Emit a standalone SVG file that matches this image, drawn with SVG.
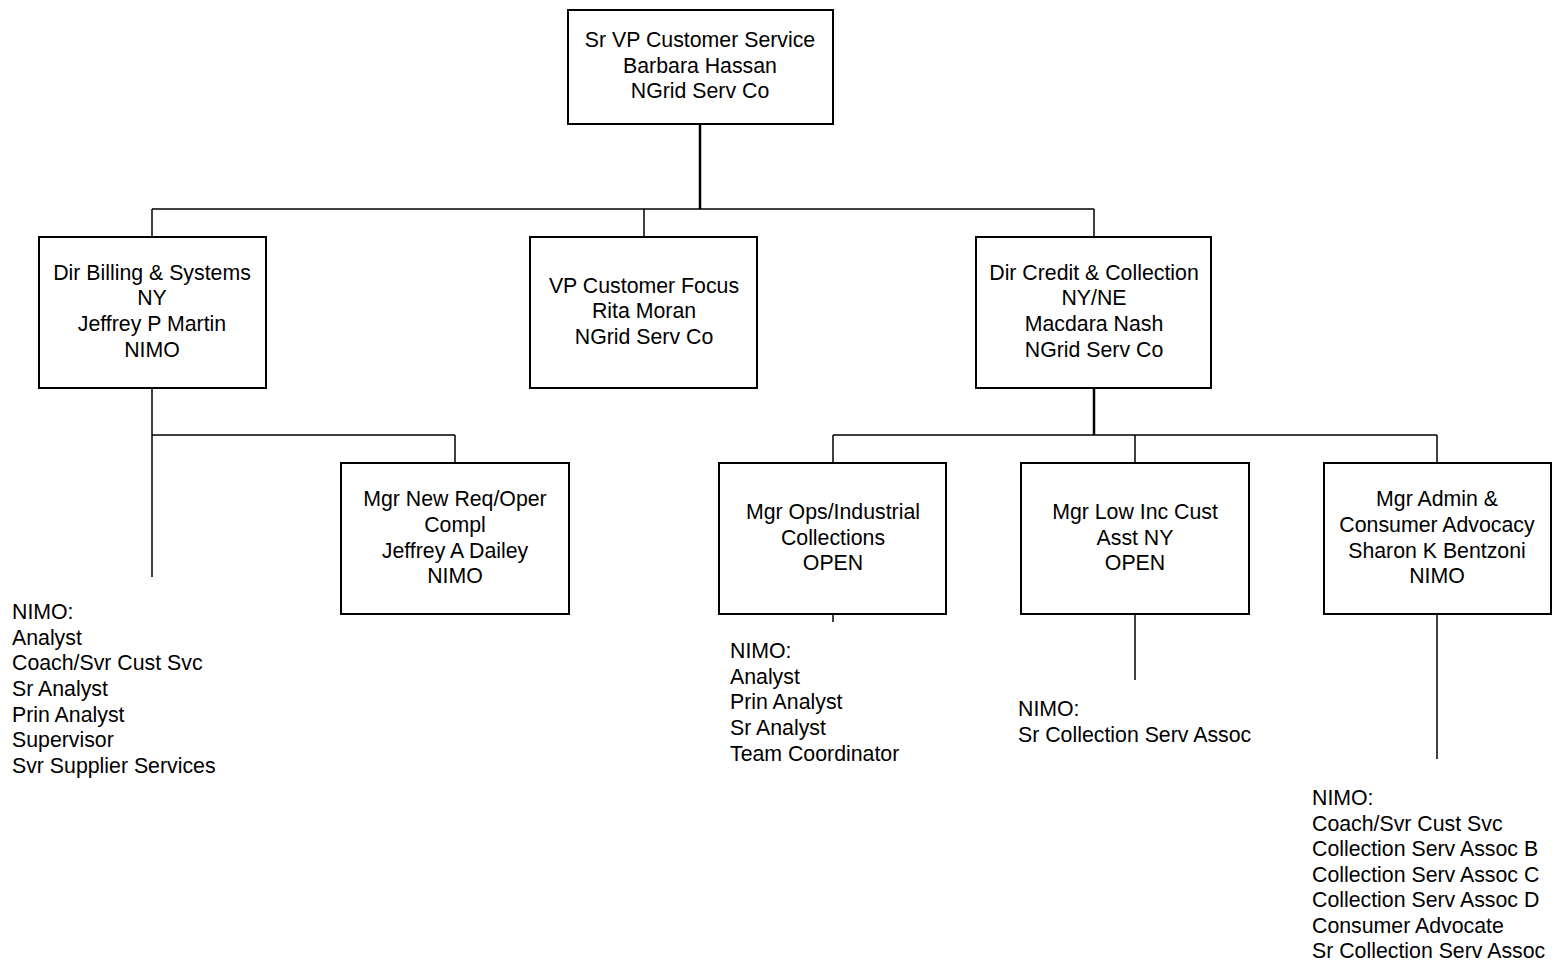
<svg xmlns="http://www.w3.org/2000/svg" width="1555" height="961" viewBox="0 0 1555 961">
<style>
.box{fill:#fff;stroke:#000;stroke-width:2}
.ln{stroke:#000;stroke-width:1.5;fill:none}
.th{stroke:#000;stroke-width:2.5;fill:none}
text{font-family:"Liberation Sans",Arial,sans-serif;font-size:21.3px;fill:#000}
.c{text-anchor:middle}
</style>
<rect width="1555" height="961" fill="#fff"/>
<g id="connectors">
<line class="th" x1="700" y1="124" x2="700" y2="209"/>
<line class="ln" x1="152" y1="209" x2="1094" y2="209"/>
<line class="ln" x1="152" y1="209" x2="152" y2="237"/>
<line class="ln" x1="644" y1="209" x2="644" y2="237"/>
<line class="ln" x1="1094" y1="209" x2="1094" y2="237"/>
<line class="ln" x1="152" y1="388" x2="152" y2="577"/>
<line class="ln" x1="152" y1="435" x2="455" y2="435"/>
<line class="ln" x1="455" y1="435" x2="455" y2="463"/>
<line class="th" x1="1094" y1="388" x2="1094" y2="435"/>
<line class="ln" x1="833" y1="435" x2="1437" y2="435"/>
<line class="ln" x1="833" y1="435" x2="833" y2="463"/>
<line class="ln" x1="1135" y1="435" x2="1135" y2="463"/>
<line class="ln" x1="1437" y1="435" x2="1437" y2="463"/>
<line class="ln" x1="833" y1="614" x2="833" y2="622"/>
<line class="ln" x1="1135" y1="614" x2="1135" y2="680"/>
<line class="ln" x1="1437" y1="614" x2="1437" y2="759"/>
</g>
<g id="n-top">
<rect class="box" x="568" y="10" width="265" height="114"/>
<text class="c" x="700" y="47">Sr VP Customer Service</text>
<text class="c" x="700" y="73">Barbara Hassan</text>
<text class="c" x="700" y="98">NGrid Serv Co</text>
</g>
<g id="n-billing">
<rect class="box" x="39" y="237" width="227" height="151"/>
<text class="c" x="152" y="280">Dir Billing &amp; Systems</text>
<text class="c" x="152" y="305">NY</text>
<text class="c" x="152" y="331">Jeffrey P Martin</text>
<text class="c" x="152" y="357">NIMO</text>
</g>
<g id="n-focus">
<rect class="box" x="530" y="237" width="227" height="151"/>
<text class="c" x="644" y="293">VP Customer Focus</text>
<text class="c" x="644" y="318">Rita Moran</text>
<text class="c" x="644" y="344">NGrid Serv Co</text>
</g>
<g id="n-credit">
<rect class="box" x="976" y="237" width="235" height="151"/>
<text class="c" x="1094" y="280">Dir Credit &amp; Collection</text>
<text class="c" x="1094" y="305">NY/NE</text>
<text class="c" x="1094" y="331">Macdara Nash</text>
<text class="c" x="1094" y="357">NGrid Serv Co</text>
</g>
<g id="n-newreq">
<rect class="box" x="341" y="463" width="228" height="151"/>
<text class="c" x="455" y="506">Mgr New Req/Oper</text>
<text class="c" x="455" y="532">Compl</text>
<text class="c" x="455" y="558">Jeffrey A Dailey</text>
<text class="c" x="455" y="583">NIMO</text>
</g>
<g id="n-ops">
<rect class="box" x="719" y="463" width="227" height="151"/>
<text class="c" x="833" y="519">Mgr Ops/Industrial</text>
<text class="c" x="833" y="545">Collections</text>
<text class="c" x="833" y="570">OPEN</text>
</g>
<g id="n-lowinc">
<rect class="box" x="1021" y="463" width="228" height="151"/>
<text class="c" x="1135" y="519">Mgr Low Inc Cust</text>
<text class="c" x="1135" y="545">Asst NY</text>
<text class="c" x="1135" y="570">OPEN</text>
</g>
<g id="n-admin">
<rect class="box" x="1324" y="463" width="227" height="151"/>
<text class="c" x="1437" y="506">Mgr Admin &amp;</text>
<text class="c" x="1437" y="532">Consumer Advocacy</text>
<text class="c" x="1437" y="558">Sharon K Bentzoni</text>
<text class="c" x="1437" y="583">NIMO</text>
</g>
<g id="list-billing">
<text x="12" y="619">NIMO:</text>
<text x="12" y="645">Analyst</text>
<text x="12" y="670">Coach/Svr Cust Svc</text>
<text x="12" y="696">Sr Analyst</text>
<text x="12" y="722">Prin Analyst</text>
<text x="12" y="747">Supervisor</text>
<text x="12" y="773">Svr Supplier Services</text>
</g>
<g id="list-ops">
<text x="730" y="658">NIMO:</text>
<text x="730" y="684">Analyst</text>
<text x="730" y="709">Prin Analyst</text>
<text x="730" y="735">Sr Analyst</text>
<text x="730" y="761">Team Coordinator</text>
</g>
<g id="list-lowinc">
<text x="1018" y="716">NIMO:</text>
<text x="1018" y="742">Sr Collection Serv Assoc</text>
</g>
<g id="list-admin">
<text x="1312" y="805">NIMO:</text>
<text x="1312" y="831">Coach/Svr Cust Svc</text>
<text x="1312" y="856">Collection Serv Assoc B</text>
<text x="1312" y="882">Collection Serv Assoc C</text>
<text x="1312" y="907">Collection Serv Assoc D</text>
<text x="1312" y="933">Consumer Advocate</text>
<text x="1312" y="958">Sr Collection Serv Assoc</text>
</g>
</svg>
